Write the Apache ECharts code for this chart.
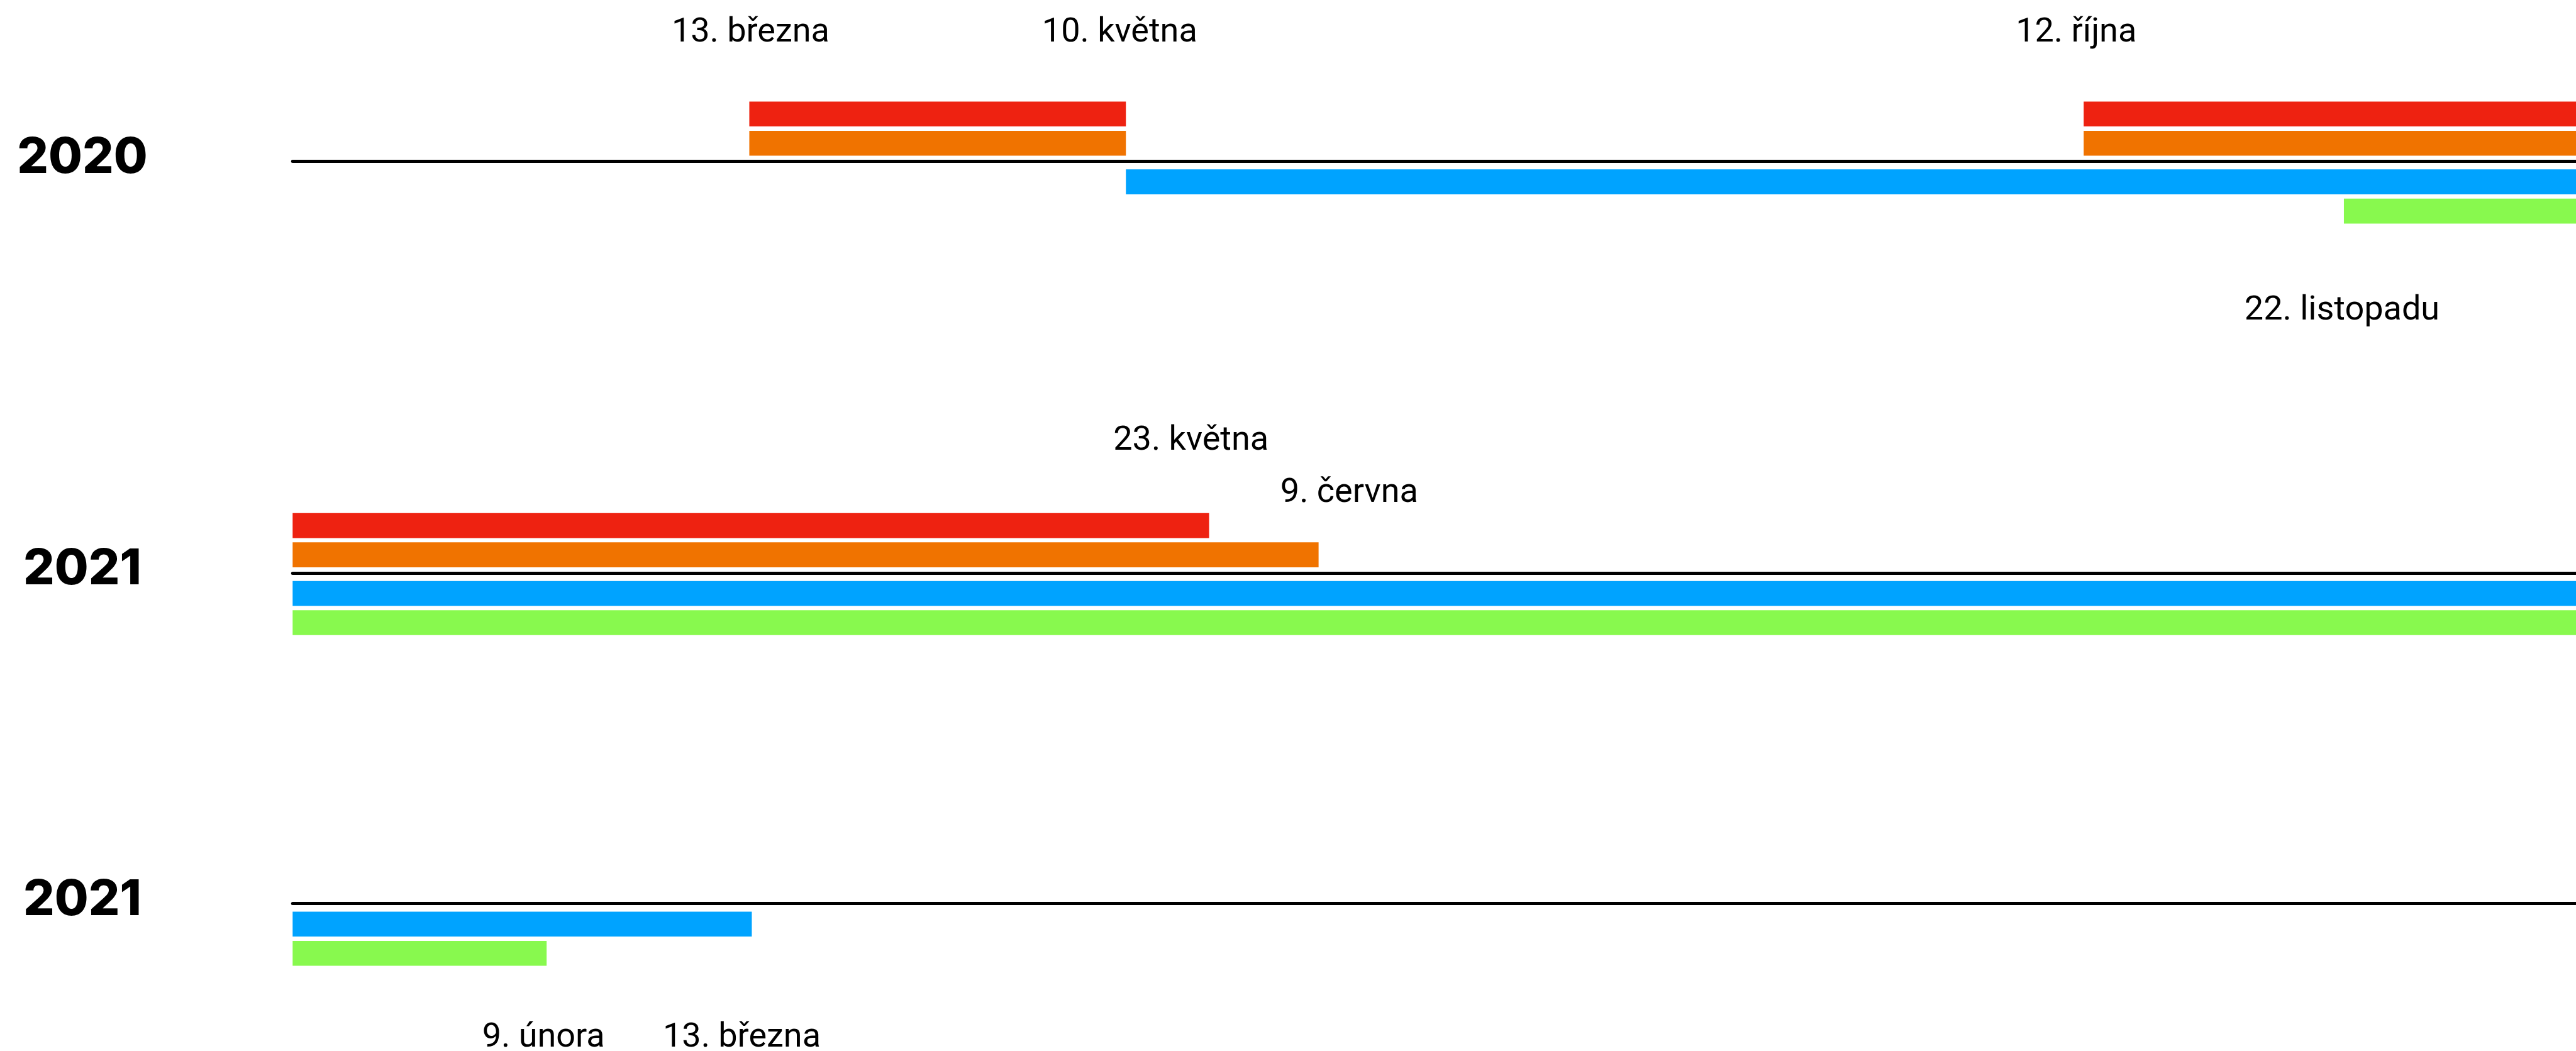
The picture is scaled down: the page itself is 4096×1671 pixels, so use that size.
<!DOCTYPE html>
<html>
<head>
<meta charset="utf-8">
<script src="https://cdn.jsdelivr.net/npm/echarts@6.0.0/dist/echarts.min.js"></script>
<style>
  html, body { margin: 0; padding: 0; background: #fff; }
  #container { width: 4096px; height: 1671px; }
</style>
</head>
<body>
<div id="container"></div>
<script>
// year shown at the left of each timeline row
var rowYears = ['2020', '2021', '2021'];

// spans as [start, end], in days counted from 1 January of the row
var red2020 = [[73.0, 133.2], [286.3, 365]];
var orange2020 = [[73.0, 133.2], [286.3, 365]];
var blue2020 = [[133.2, 365]];
var green2020 = [[327.9, 365]];

var red2021 = [[0, 146.5]];
var orange2021 = [[0, 164.0]];
var blue2021 = [[0, 365]];
var green2021 = [[0, 365]];

var blue2021b = [[0, 73.4]];
var green2021b = [[0, 40.6]];

// date notes: text, day they point at, row they belong to
var dateTexts = ['13. března', '10. května', '12. října', '22. listopadu', '23. května', '9. června', '9. února', '13. března'];
var dateDays = [73.2, 132.2, 285.1, 327.6, 143.6, 168.9, 40.1, 71.8];
var dateRows = [0, 0, 0, 0, 1, 1, 2, 2];

var colors = { red: '#ee2211', orange: '#f07300', blue: '#00a3ff', green: '#88f94e' };

// layout (px)
var lineY = [256.4, 910.8, 1436.5];
var noteShift = [-203.5, -203.5, -203.5, 238, -209, -126.5, 213.5, 213.5];
var gridLeft = 465.3;
var barH = 39.6;

var dom = document.getElementById('container');
var myChart = echarts.init(dom);

var rows = [
  { upper: { red: red2020, orange: orange2020 }, lower: { blue: blue2020, green: green2020 } },
  { upper: { red: red2021, orange: orange2021 }, lower: { blue: blue2021, green: green2021 } },
  { upper: null, lower: { blue: blue2021b, green: green2021b } }
];

function renderSpan(params, api) {
  var lane = api.value(2);
  var p0 = api.coord([api.value(0), lane]);
  var p1 = api.coord([api.value(1), lane]);
  return {
    type: 'rect',
    shape: { x: p0[0], y: p0[1] - barH / 2, width: p1[0] - p0[0], height: barH },
    style: { fill: api.visual('color') }
  };
}

var grids = [], xAxes = [], yAxes = [], series = [];

function addGrid(top, lanes, spans, withLine) {
  var gi = grids.length;
  grids.push({ left: gridLeft, right: 0, top: top, height: 93.1 });
  xAxes.push({
    gridIndex: gi, type: 'value', min: 0, max: 365,
    position: 'top', offset: withLine ? 9.4 : 0,
    axisLine: { show: withLine, lineStyle: { color: '#000', width: 5 } },
    axisTick: { show: false }, axisLabel: { show: false }, splitLine: { show: false }
  });
  yAxes.push({
    gridIndex: gi, type: 'category', data: lanes, inverse: true,
    axisLine: { show: false }, axisTick: { show: false }, axisLabel: { show: false }, splitLine: { show: false }
  });
  lanes.forEach(function (lane) {
    series.push({
      type: 'custom', name: lane, xAxisIndex: gi, yAxisIndex: gi,
      renderItem: renderSpan,
      itemStyle: { color: colors[lane] },
      encode: { x: [0, 1], y: 2 },
      data: spans[lane].map(function (s) { return [s[0], s[1], lane]; }),
      silent: true
    });
  });
}

rows.forEach(function (row, r) {
  if (row.upper) addGrid(lineY[r] - 98.5, ['red', 'orange'], row.upper, false);
  addGrid(lineY[r] + 9.4, ['blue', 'green'], row.lower, true);
});

option = {
  animation: false,
  backgroundColor: '#fff',
  grid: grids,
  xAxis: xAxes,
  yAxis: yAxes,
  series: series
};
myChart.setOption(option);

var graphics = [];
rowYears.forEach(function (y, r) {
  graphics.push({
    type: 'text', x: 131, y: lineY[r] - 5,
    style: { text: y, fontFamily: 'Inter', fontWeight: 800, fontSize: 78, fill: '#000', align: 'center', verticalAlign: 'middle' }
  });
});
dateTexts.forEach(function (t, i) {
  var px = myChart.convertToPixel({ xAxisIndex: 0 }, dateDays[i]);
  graphics.push({
    type: 'text', x: px, y: lineY[dateRows[i]] + noteShift[i],
    style: { text: t, fontFamily: 'Roboto', fontSize: 54, fill: '#000', align: 'center', verticalAlign: 'middle' }
  });
});
myChart.setOption({ graphic: graphics });
</script>
</body>
</html>
